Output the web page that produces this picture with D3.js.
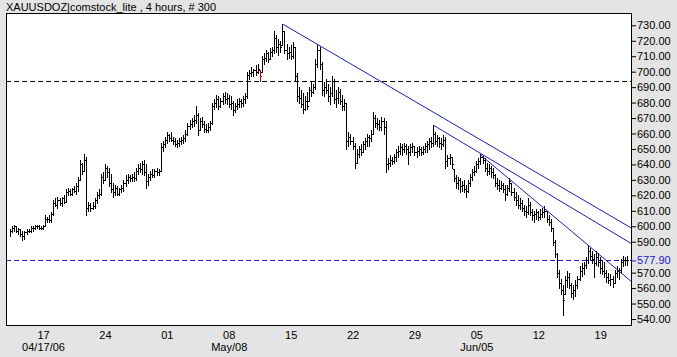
<!DOCTYPE html>
<html><head><meta charset="utf-8">
<script src="https://cdn.jsdelivr.net/npm/d3@7/dist/d3.min.js"></script>
<style>
html,body{margin:0;padding:0;background:#e4e4e4;}
svg{display:block;font-family:"Liberation Sans",Arial,sans-serif;}
</style></head><body>
<svg id="c" width="677" height="357"></svg>
<script>
const title = "XAUUSDOZ|comstock_lite , 4 hours, # 300";
const highs = [598,600,601,600,599,598,597,597,598,598,600,600,601,601,601,600,601,607,606,607,609,617,618,619,618,619,620,624,625,624,625,626,628,632,643,641,647,645,616,615,616,618,622,624,634,635,640,639,638,634,628,627,626,625,627,630,633,634,633,634,635,638,640,641,642,643,640,634,636,637,637,638,637,654,655,658,661,660,661,658,657,656,657,658,659,662,667,669,670,672,678,673,670,671,668,666,667,668,680,682,685,684,683,686,687,686,685,684,681,680,682,683,682,684,686,700,701,703,702,704,705,701,710,712,714,713,715,716,726,724,721,720,730.6,726,718,716,717,719,716,699,690,688,686,684,687,690,693,692,708,717,716,706,693,695,692,690,697,695,688,690,689,685,682,680,661,660,658,654,650,652,653,655,657,660,659,662,674,672,670,669,671,670,668,644,646,645,647,650,652,654,653,654,653,652,653,654,652,651,652,651,652,654,655,657,658,665.5,661,659,658,657,659,658,646,647,645,637,633,632,631,629,630,627,630,634,637,639,642,644,647,646,644,641,640,639,638,634,631,630,629,628,627,627,631,628,625,622,620,618,617,614,613,618,616,611,610,611,610,611,612,613,610,607,605,599,591,583,572,566,562,568,571,570,563,562,565,568,574,576,577,580,588,586,584,582,584,583,580,578,577,572,570,569,568,572,574,573,579,581,580,581];
const lows = [594,596,597,596,595,594,591,592,595,596,596,597,598,599,598,598,598,600,603,603,603,607,613,612,614,613,615,616,620,620,620,622,621,623,630,634,636,607,610,610,611,612,615,618,620,628,630,632,626,622,619,620,620,620,622,623,626,628,629,629,629,630,634,635,634,633,625,627,630,632,632,633,633,636,649,651,654,655,655,653,652,651,652,653,654,655,659,663,664,665,667,659,662,664,661,661,661,662,666,676,677,676,677,679,680,679,677,676,672,674,676,677,677,678,680,683,695,697,697,698,699,694,700,705,707,706,708,710,712,713,711,713,717,712,708,709,708,709,694,681,680,677,673,675,676,681,684,686,689,703,702,685,684,686,681,679,684,680,677,680,679,675,675,650,652,653,650,638,641,645,646,648,650,652,652,655,660,664,663,662,662,660,635,637,639,640,641,642,645,647,646,648,647,640,646,648,646,645,646,646,647,648,648,650,651,652,653,652,651,650,652,638,639,640,638,629,625,624,622,623,622,618.7,622,626,630,633,635,638,640,641,636,633,634,632,631,626,624,623,624,622,617,620,623,620,617,614,612,611,610,607,606,608,607,604,603,605,604,605,606,606,603,601,597,588,580,567,560,556,542.6,556,561,560,554,553,555,560,565,568,569,573,576,578,576,567,575,574,570,569,567,564,563,562,561,563,567,566,570,574,575,575];
const closes = [597,599,600,597,598,595,594,596,597,597,599,599,600,600,599,599,600,605,605,604,608,615,614,617,615,618,616,622,623,621,624,623,626,630,640,636,643,612,614,612,613,617,620,621,632,630,638,635,628,624,622,625,621,624,625,628,630,632,631,632,631,636,638,637,640,635,629,632,634,633,636,635,636,651,653,656,659,657,656,655,653,654,655,656,657,660,665,666,668,669,672,662,668,666,663,662,664,667,678,680,682,678,681,684,682,683,679,680,675,678,679,681,680,682,684,698,699,700,701,700,702,697,708,709,712,708,713,714,722,716,718,716,726,714,712,713,710,716,697,684,683,679,676,681,678,688,687,690,705,714,705,688,690,688,684,686,694,682,683,687,681,678,680,655,658,655,652,641,647,650,648,653,655,658,657,660,670,667,666,664,668,664,640,641,643,642,645,648,649,651,650,652,650,648,651,652,648,649,650,648,650,652,653,655,654,660,655,657,654,653,656,642,644,645,640,631,628,630,626,627,624,623,628,632,635,636,640,642,645,643,638,636,638,635,633,628,627,625,627,624,621,625,629,622,619,617,614,615,612,610,609,614,609,607,608,609,606,608,609,610,605,603,599,590,582,570,563,559,552,565,567,562,557,559,562,566,571,573,575,578,584,581,579,576,580,577,573,571,570,567,565,566,563,570,571,572,577,578,578,577.9];
const markedBar = 121;            // bar drawn in red
const dayTicks = [16,46,76,106,136,166,196,226,256,286];
const dayLabels = ["17","24","01","08","15","22","29","05","12","19"];
const monthTicks = [16,106,226];
const monthLabels = ["04/17/06","May/08","Jun/05"];
const priceTicks = [540,550,560,570,590,600,610,620,630,640,650,660,670,680,690,700,710,720,730];
const lastPrice = 577.9;
const refLevel = 694;
// trend lines: [startIndex, startPrice, endIndex, endPrice]
const trendLines = [[132.4,730.6,300.9,599],[205,665.5,300.9,589],[227.7,646.5,300.9,564.5]];

const L=6, R=631, T=13, B=325;
const svg = d3.select("#c");
const x = d3.scaleLinear().domain([0,299]).range([10,627]);
const y = d3.scaleLinear().domain([540,730]).range([319,25.3]);

svg.append("rect").attr("x",L+0.5).attr("y",T+0.5).attr("width",R-L).attr("height",B-T)
  .attr("fill","#fff").attr("stroke","#000");
svg.append("defs").append("clipPath").attr("id","pc").append("rect")
  .attr("x",L+1).attr("y",T+1).attr("width",R-L-1).attr("height",B-T-1);
const g = svg.append("g").attr("clip-path","url(#pc)");

// reference dashed lines
g.append("line").attr("x1",L).attr("x2",R).attr("y1",Math.round(y(refLevel))+0.5).attr("y2",Math.round(y(refLevel))+0.5)
  .attr("stroke","#000").attr("stroke-dasharray","5,3");
g.append("line").attr("x1",L).attr("x2",R).attr("y1",Math.round(y(lastPrice))+0.5).attr("y2",Math.round(y(lastPrice))+0.5)
  .attr("stroke","#1a1acc").attr("stroke-dasharray","5,3");

// bars
const bars = g.append("g").attr("shape-rendering","crispEdges");
closes.forEach((c,i)=>{
  const xc = Math.round(x(i))+0.5;
  const col = i===markedBar ? "#cc0000" : "#000";
  bars.append("line").attr("x1",xc).attr("x2",xc).attr("y1",y(highs[i])).attr("y2",y(lows[i])+1).attr("stroke",col);
  const yc = Math.round(y(c))+0.5;
  bars.append("line").attr("x1",xc).attr("x2",xc+1.5).attr("y1",yc).attr("y2",yc).attr("stroke",col);
  if(i>0){
    const yo = Math.round(y(Math.min(highs[i],Math.max(lows[i],closes[i-1]))))+0.5;
    bars.append("line").attr("x1",xc-1.5).attr("x2",xc).attr("y1",yo).attr("y2",yo).attr("stroke",col);
  }
});

// trend lines
trendLines.forEach(t=>{
  g.append("line").attr("x1",x(t[0])).attr("y1",y(t[1])).attr("x2",x(t[2])).attr("y2",y(t[3]))
    .attr("stroke","#1e1eb4").attr("stroke-width",1);
});

// y axis
const ya = svg.append("g").attr("transform",`translate(${R},0)`)
  .call(d3.axisRight(y).tickValues(priceTicks).tickSize(5).tickPadding(1).tickFormat(d3.format(".2f")));
ya.select(".domain").remove();
ya.selectAll("text").attr("font-size",11).attr("fill","#000").attr("font-family","Liberation Sans, Arial, sans-serif");
ya.selectAll("line").attr("stroke","#000");
const ylp = svg.append("g").attr("transform",`translate(${R},0)`)
  .call(d3.axisRight(y).tickValues([lastPrice]).tickSize(5).tickPadding(1).tickFormat(d3.format(".2f")));
ylp.select(".domain").remove();
ylp.selectAll("text").attr("font-size",11).attr("fill","#1a1acc").attr("font-family","Liberation Sans, Arial, sans-serif");
ylp.selectAll("line").attr("stroke","#1a1acc");

// x axis
const xa = svg.append("g").attr("transform",`translate(0,${B})`)
  .call(d3.axisBottom(x).tickValues(dayTicks).tickSize(0).tickPadding(6).tickFormat((d,i)=>dayLabels[i]));
xa.select(".domain").remove();
xa.selectAll("text").attr("font-size",11).attr("fill","#000").attr("font-family","Liberation Sans, Arial, sans-serif");
const xb = svg.append("g").attr("transform",`translate(0,${B+13})`)
  .call(d3.axisBottom(x).tickValues(monthTicks).tickSize(0).tickPadding(5).tickFormat((d,i)=>monthLabels[i]));
xb.select(".domain").remove();
xb.selectAll("text").attr("font-size",11).attr("fill","#000").attr("font-family","Liberation Sans, Arial, sans-serif");

svg.append("text").attr("x",6).attr("y",11).attr("font-size",11).attr("fill","#000").text(title);
</script>
</body></html>
